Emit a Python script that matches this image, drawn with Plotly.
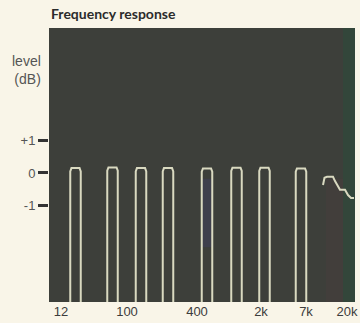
import plotly.graph_objects as go

# x positions are in chart units (the printed axis is not a true log scale)
tick_pos = [12, 78, 148, 212, 257, 298]
tick_text = ["12", "100", "400", "2k", "7k", "20k"]

# test-tone bursts: centre position and peak level (dB)
burst_pos = [26.5, 63.5, 92, 119, 158, 187.5, 215.5, 252]
burst_peak = [0.15, 0.17, 0.15, 0.15, 0.14, 0.16, 0.16, 0.14]
burst_width = 10.5

# swept response trace at the top end
sweep_x = [274, 275.5, 278, 284, 286, 291, 296, 299, 302, 305]
sweep_y = [-0.37, -0.15, -0.12, -0.12, -0.25, -0.52, -0.52, -0.68, -0.77, -0.77]

line_col = "#d9d9c0"
floor = -10

fig = go.Figure()

for pos, peak in zip(burst_pos, burst_peak):
    x0 = pos - burst_width / 2
    x1 = pos + burst_width / 2
    fig.add_trace(go.Scatter(
        x=[x0, x0, x0 + 1.2, x1 - 1.2, x1, x1],
        y=[floor, peak - 0.1, peak, peak, peak - 0.1, floor],
        mode="lines",
        line=dict(color=line_col, width=2),
        hoverinfo="skip",
        showlegend=False
    ))

fig.add_trace(go.Scatter(
    x=sweep_x, y=sweep_y,
    mode="lines",
    line=dict(color=line_col, width=2),
    hoverinfo="skip",
    showlegend=False
))

# scan tint patches on the dark panel
fig.add_shape(type="rect", xref="x", yref="paper", x0=294, x1=306, y0=0, y1=1,
              fillcolor="#2f4a3b", opacity=0.7, line_width=0, layer="below")
fig.add_shape(type="rect", xref="x", yref="paper", x0=277, x1=294, y0=0, y1=0.45,
              fillcolor="#483e3c", opacity=0.5, line_width=0, layer="below")
fig.add_shape(type="rect", xref="x", yref="paper", x0=153, x1=164, y0=0.2, y1=0.45,
              fillcolor="#3f3f58", opacity=0.6, line_width=0, layer="below")

fig.add_annotation(text="<b>Frequency response</b>", xref="paper", yref="paper",
                   x=0.0, y=1.0, xanchor="left", yanchor="bottom", yshift=4,
                   showarrow=False, font=dict(family="Lato", size=14, color="#2b2b2b"))
fig.add_annotation(text="level<br>(dB)", xref="paper", yref="paper",
                   x=0.0, y=0.845, xanchor="right", yanchor="middle", xshift=-6,
                   align="right", showarrow=False,
                   font=dict(family="Liberation Sans", size=14, color="#555555"))

fig.update_layout(
    width=360, height=323,
    margin=dict(l=49, r=5, t=28, b=21, autoexpand=False),
    paper_bgcolor="#f9f5e8",
    plot_bgcolor="#3d3f3a",
    xaxis=dict(
        range=[0, 306], showgrid=False, zeroline=False, automargin=False,
        tickvals=tick_pos, ticktext=tick_text, ticks="",
        tickfont=dict(family="Liberation Sans", size=13, color="#3c3c3c")
    ),
    yaxis=dict(
        range=[-3.97, 4.46], showgrid=False, zeroline=False, automargin=False,
        tickvals=[1, 0, -1], ticktext=["+1", "0", "-1"],
        ticks="outside", ticklen=10, tickwidth=3, tickcolor="#333333",
        tickfont=dict(family="Liberation Sans", size=13, color="#555555")
    )
)

fig.write_html("out.html", config={"displayModeBar": False},
               post_script="document.body.style.margin='0';"
                           "document.body.style.background='#f9f5e8';")
